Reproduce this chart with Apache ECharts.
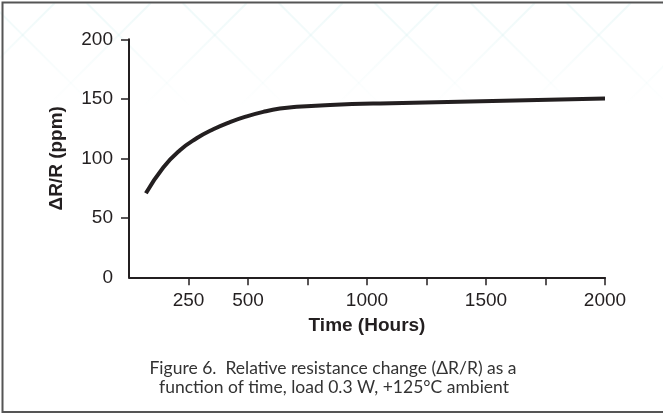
<!DOCTYPE html>
<html><head><meta charset="utf-8">
<script src="https://cdn.jsdelivr.net/npm/echarts@6/dist/echarts.min.js"></script>
<style>html,body{margin:0;padding:0;background:#fff}#c{width:663px;height:415px}</style>
</head><body><div id="c"></div>
<script>
// Data
const timeHours = [71, 144, 214, 284, 354, 424, 494, 564, 634, 705, 845, 1055, 2000];
const deltaRppm = [70.6, 92.3, 106.8, 116.8, 124.4, 130.4, 135.2, 139, 141.8, 143.3, 144.8, 146.1, 150.3];
const xTickValues = [250, 500, 750, 1000, 1250, 1500, 1750, 2000];
const xLabelValues = [250, 500, 1000, 1500, 2000];
const yTickValues = [50, 100, 150, 200];
const yLabelValues = [0, 50, 100, 150, 200];
const captionLines = ['Figure 6.  Relative resistance change (\u0394R/R) as a', 'function of time, load 0.3 W, +125\u00B0C ambient'];

const ink = '#231f20';
const chart = echarts.init(document.getElementById('c'), null, {renderer: 'canvas'});

// faint decorative lattice in the top band
const deco = [];
const fade = {type: 'linear', x: 0, y: 0, x2: 0, y2: 1, colorStops: [
  {offset: 0, color: 'rgba(200,236,236,0.3)'}, {offset: 1, color: 'rgba(200,236,236,0)'}]};
for (let c = 441.7 - 96 * 5; c < 800; c += 96) {
  deco.push({type: 'line', silent: true, shape: {x1: c - 3, y1: 3, x2: c - 105, y2: 105}, style: {stroke: fade, lineWidth: 2}});
}
for (let c = 371.7 - 96 * 5; c < 700; c += 96) {
  deco.push({type: 'line', silent: true, shape: {x1: c + 3, y1: 3, x2: c + 105, y2: 105}, style: {stroke: fade, lineWidth: 2}});
}

const pts = timeHours.map((t, i) => [t, deltaRppm[i]]);
const fmt = v => String(v);

chart.setOption({
  animation: false,
  backgroundColor: '#fff',
  grid: {left: 129, right: 58, top: 39.3, bottom: 137.7, containLabel: false},
  xAxis: {
    type: 'value', min: 0, max: 2000, interval: 250,
    name: 'Time (Hours)', nameLocation: 'middle', nameGap: 39,
    nameTextStyle: {fontFamily: 'Liberation Sans, Arial, sans-serif', fontWeight: 'bold', fontSize: 19, color: ink},
    axisLine: {show: true, lineStyle: {color: ink, width: 2}},
    axisTick: {show: true, inside: false, length: 8, customValues: xTickValues, lineStyle: {color: ink, width: 1.5}},
    axisLabel: {customValues: xLabelValues, formatter: fmt, margin: 14, fontFamily: 'Liberation Sans, Arial, sans-serif', fontSize: 19, color: ink},
    splitLine: {show: false}
  },
  yAxis: {
    type: 'value', min: 0, max: 200, interval: 50,
    name: '\u0394R/R (ppm)', nameLocation: 'middle', nameGap: 63, nameRotate: 90,
    nameTextStyle: {fontFamily: 'Liberation Sans, Arial, sans-serif', fontWeight: 'bold', fontSize: 19, color: ink},
    axisLine: {show: true, lineStyle: {color: ink, width: 2}},
    axisTick: {show: true, inside: false, length: 8, customValues: yTickValues, lineStyle: {color: ink, width: 1.5}},
    axisLabel: {customValues: yLabelValues, formatter: fmt, margin: 16, fontFamily: 'Liberation Sans, Arial, sans-serif', fontSize: 19, color: ink},
    splitLine: {show: false}
  },
  series: [{
    type: 'line', data: pts, smooth: 0.5, showSymbol: false,
    lineStyle: {color: ink, width: 4, cap: 'butt'}
  }],
  graphic: deco.concat([
    {type: 'rect', silent: true, shape: {x: 2.5, y: 2.5, width: 700, height: 409.5},
     style: {fill: 'none', stroke: '#555', lineWidth: 2}},
    {type: 'text', silent: true, x: 333, y: 368, style: {text: captionLines[0], fontFamily: 'Lato, sans-serif', fontSize: 17.5, fill: '#333', align: 'center', verticalAlign: 'middle'}},
    {type: 'text', silent: true, x: 334, y: 387.5, style: {text: captionLines[1], fontFamily: 'Lato, sans-serif', fontSize: 17.5, fill: '#333', align: 'center', verticalAlign: 'middle'}}
  ])
});
</script></body></html>
